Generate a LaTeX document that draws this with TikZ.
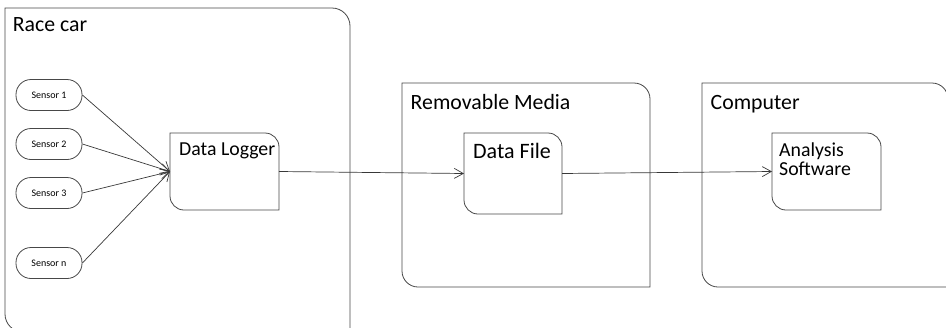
\documentclass[tikz,border=0pt]{standalone}
\usepackage{fontspec}
\setmainfont{Carlito}
\usetikzlibrary{arrows.meta,calc}

\tikzset{
  outline/.style={draw=black!72, line width=0.8pt},
  frame/.style={rectangle, draw=none, inner sep=0pt, outer sep=0pt},
  sensor/.style={rectangle, draw=black!72, line width=0.8pt, rounded corners=15pt,
    minimum width=66pt, minimum height=31pt, inner sep=0pt,
    font=\fontsize{10}{12}\selectfont},
  flow/.style={draw=black!78, line width=0.7pt, -{Straight Barb[length=9pt,width=10pt]}},
  heading/.style={anchor=base west, inner sep=0pt, font=\fontsize{21.8}{26}\selectfont},
  caption/.style={anchor=base west, inner sep=0pt, font=\fontsize{19.8}{23}\selectfont},
}

% outline with rounded north-east and south-west corners
\newcommand\cornerbox[2]{%
  \draw[outline] (#1.north west) -- ([xshift=-#2]#1.north east)
    arc[start angle=90, end angle=0, radius=#2] -- (#1.south east)
    -- ([xshift=#2]#1.south west)
    arc[start angle=270, end angle=180, radius=#2] -- cycle;}

\begin{document}
\begin{tikzpicture}[x=1pt, y=1pt]
  \useasboundingbox (0,0) rectangle (946,-327);
  \clip (0,0) rectangle (946,-327);

  % containers
  \node[frame, minimum width=345pt, minimum height=324pt] (car) at (177.5,-170) {};
  \node[frame, minimum width=248pt, minimum height=204pt] (media) at (526,-185) {};
  \node[frame, minimum width=246pt, minimum height=204pt] (pc) at (825,-185) {};
  \cornerbox{car}{18pt}
  \cornerbox{media}{16pt}
  \cornerbox{pc}{16pt}
  \node[heading] (car-t) at ($(car.north west)+(7.7,-23.7)$) {Race car};
  \node[heading] (media-t) at ($(media.north west)+(8.5,-26)$) {Removable Media};
  \node[heading] (pc-t) at ($(pc.north west)+(8.5,-26)$) {Computer};

  % processing blocks
  \node[frame, minimum width=109pt, minimum height=77pt] (logger) at (224.5,-171.5) {};
  \node[frame, minimum width=98pt, minimum height=81pt] (file) at (513,-173.5) {};
  \node[frame, minimum width=109pt, minimum height=77pt] (soft) at (826.5,-171.5) {};
  \cornerbox{logger}{14pt}
  \cornerbox{file}{14pt}
  \cornerbox{soft}{14pt}
  \node[caption] (logger-t) at ($(logger.north west)+(9,-22)$) {Data Logger};
  \node[caption, font=\fontsize{22}{26}\selectfont] (file-t) at ($(file.north west)+(9,-25.3)$) {Data File};
  \node[caption] (soft-t1) at ($(soft.north west)+(7,-23.7)$) {Analysis};
  \node[caption] (soft-t2) at ($(soft.north west)+(7,-42)$) {Software};

  % sensors
  \node[sensor] (s1) at (49,-95) {Sensor 1};
  \node[sensor] (s2) at (49,-144) {Sensor 2};
  \node[sensor] (s3) at (49,-193) {Sensor 3};
  \node[sensor] (sn) at (49,-263) {Sensor n};

  % data flow
  \foreach \s in {s1,s2,s3,sn} \draw[flow] (\s.east) -- (logger.west);
  \draw[flow] (logger.east) -- (file.west);
  \draw[flow] (file.east) -- (soft.west);
\end{tikzpicture}
\end{document}
